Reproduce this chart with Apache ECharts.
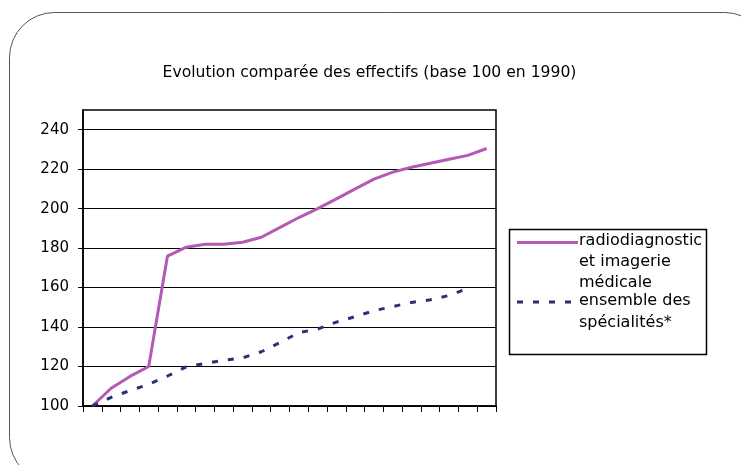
<!DOCTYPE html>
<html>
<head>
<meta charset="utf-8">
<script src="https://cdn.jsdelivr.net/npm/echarts@6/dist/echarts.min.js"></script>
<style>html,body{margin:0;padding:0;background:#fff}#c{width:741px;height:465px}</style>
</head>
<body>
<div id="c"></div>
<script>
var titleText = 'Evolution comparée des effectifs (base 100 en 1990)';
var years = ['1990','1991','1992','1993','1994','1995','1996','1997','1998','1999','2000','2001','2002','2003','2004','2005','2006','2007','2008','2009','2010','2011'];
var radioValues = [100,109,115,120,176,180.5,182,182,183,185.5,190.5,195.5,200,205,210,215,218.5,221,223,225,227,230.5];
var ensembleValues = [100,104.4,107.8,111,115.2,119.8,121.6,123.2,124.4,127.5,132.2,137.2,139,142.5,145.3,148.3,150.4,152.5,153.8,156,159.6,null];
var seriesNames = ['radiodiagnostic et imagerie médicale', 'ensemble des spécialités*'];
var legendLines1 = ['radiodiagnostic', 'et imagerie', 'médicale'];
var legendLines2 = ['ensemble des', 'spécialités*'];
var yTicks = [100,120,140,160,180,200,220,240];

var FONT = 'DejaVu Sans';
var purple = '#b45ab4';
var navy = '#2e2e78';

var chart = echarts.init(document.getElementById('c'), null, {renderer: 'canvas'});

var graphics = [
  {type: 'rect', shape: {x: 9.5, y: 12.5, width: 760, height: 470, r: 45}, style: {fill: 'none', stroke: '#555', lineWidth: 1}, z: 0},
  {type: 'rect', shape: {x: 509.5, y: 229.5, width: 197, height: 125}, style: {fill: '#fff', stroke: '#000', lineWidth: 1.5}, z: 10},
  {type: 'line', shape: {x1: 517, y1: 242.5, x2: 578, y2: 242.5}, style: {stroke: purple, lineWidth: 3}, z: 11},
  {type: 'line', shape: {x1: 517, y1: 302, x2: 578, y2: 302}, style: {stroke: navy, lineWidth: 3, lineDash: [6, 10]}, z: 11},
  {type: 'text', x: 369.5, y: 73, style: {text: titleText, fill: '#000', font: '15.6px "' + FONT + '"', textAlign: 'center', textVerticalAlign: 'middle'}, z: 11}
];
var ly1 = [241, 262, 283];
legendLines1.forEach(function (t, i) {
  graphics.push({type: 'text', x: 579, y: ly1[i], style: {text: t, fill: '#000', font: '16px "' + FONT + '"', textAlign: 'left', textVerticalAlign: 'middle'}, z: 11});
});
var ly2 = [301, 323];
legendLines2.forEach(function (t, i) {
  graphics.push({type: 'text', x: 579, y: ly2[i], style: {text: t, fill: '#000', font: '16px "' + FONT + '"', textAlign: 'left', textVerticalAlign: 'middle'}, z: 11});
});

chart.setOption({
  animation: false,
  backgroundColor: '#fff',
  grid: {left: 83, top: 110, right: 245, bottom: 59, show: true, borderColor: '#000', borderWidth: 1.5, backgroundColor: '#fff'},
  xAxis: {
    type: 'category', data: years, boundaryGap: true,
    axisLine: {lineStyle: {color: '#000', width: 1.5}},
    axisTick: {show: true, interval: 0, length: 6, lineStyle: {color: '#000'}},
    axisLabel: {show: false, interval: 0},
    splitLine: {show: false}
  },
  yAxis: {
    type: 'value', min: 100, max: 250, interval: 20,
    axisLine: {show: true, lineStyle: {color: '#000', width: 1.5}},
    axisTick: {show: true, length: 5, customValues: yTicks, lineStyle: {color: '#000'}},
    axisLabel: {
      margin: 14, fontFamily: FONT, fontSize: 15, color: '#000', customValues: yTicks,
      formatter: function (v) { return yTicks.indexOf(v) >= 0 ? String(v) : ''; }
    },
    splitLine: {show: true, lineStyle: {color: '#000', width: 1}}
  },
  series: [
    {name: seriesNames[0], type: 'line', data: radioValues, symbol: 'none', lineStyle: {color: purple, width: 3}, z: 3},
    {name: seriesNames[1], type: 'line', data: ensembleValues, symbol: 'none', connectNulls: false, lineStyle: {color: navy, width: 3, type: [6, 10]}, z: 3}
  ],
  graphic: graphics
});
</script>
</body>
</html>
